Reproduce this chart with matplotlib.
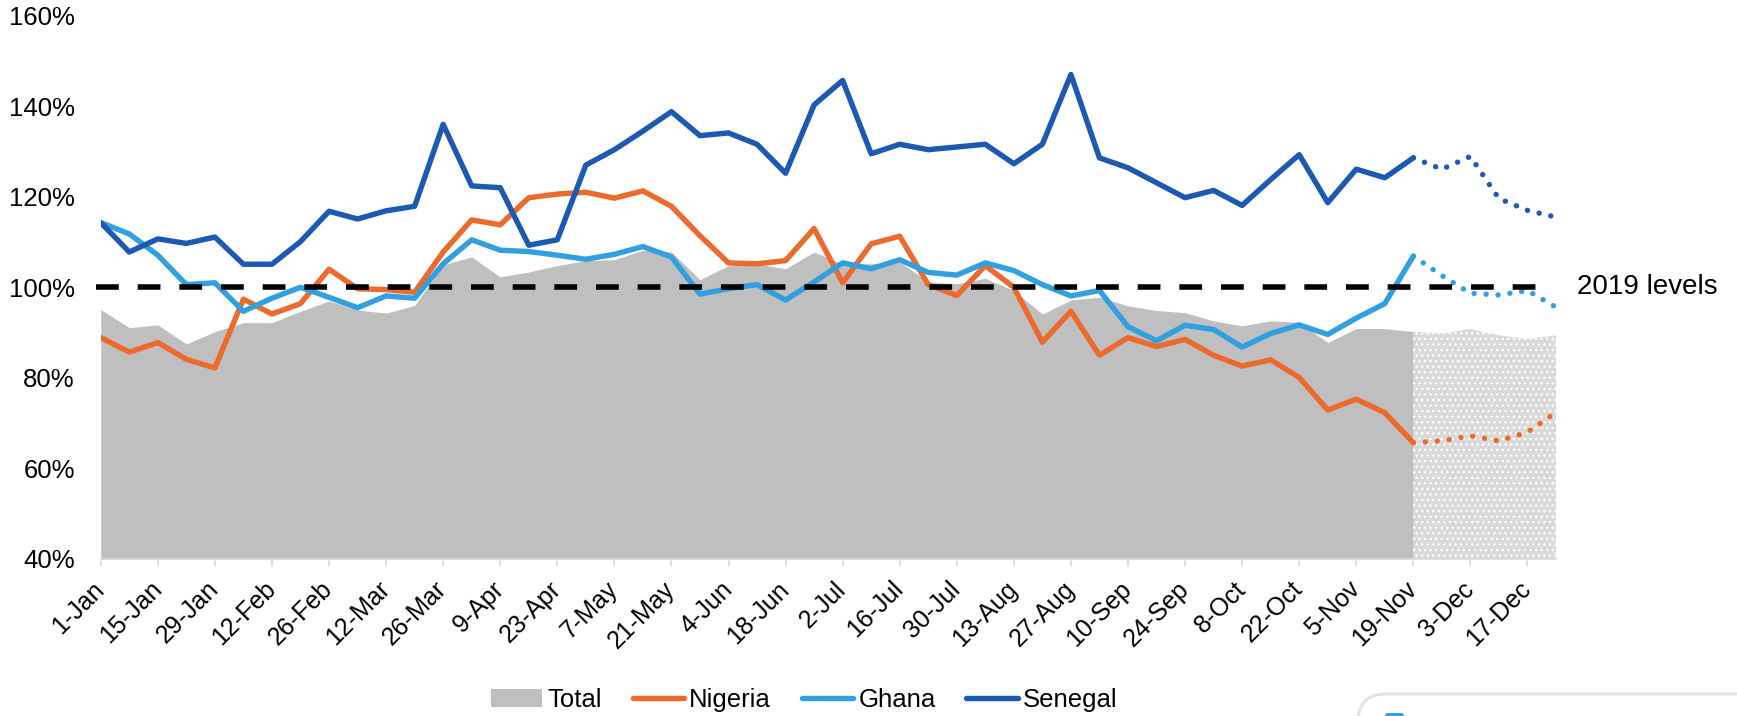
import matplotlib.pyplot as plt
from matplotlib.patches import Patch, FancyBboxPatch
from matplotlib.lines import Line2D
from matplotlib.transforms import IdentityTransform

# weekly index vs 2019 (1-Jan .. 24-Dec), last 5 weeks are projections
weeks = list(range(52))
tick_labels = ['1-Jan', '15-Jan', '29-Jan', '12-Feb', '26-Feb', '12-Mar', '26-Mar',
               '9-Apr', '23-Apr', '7-May', '21-May', '4-Jun', '18-Jun', '2-Jul',
               '16-Jul', '30-Jul', '13-Aug', '27-Aug', '10-Sep', '24-Sep', '8-Oct',
               '22-Oct', '5-Nov', '19-Nov', '3-Dec', '17-Dec']

total = [95.1, 91.1, 91.7, 87.5, 90.2, 92.2, 92.2, 94.7, 97.0, 95.0,
         94.3, 96.0, 105.0, 106.7, 102.3, 103.4, 104.8, 105.9, 106.1, 108.2,
         107.8, 101.7, 104.8, 105.2, 104.1, 107.8, 105.2, 105.2, 105.6, 101.2,
         100.8, 102.0, 99.3, 94.1, 97.2, 97.8, 95.9, 94.9, 94.4, 92.6,
         91.5, 92.6, 92.3, 87.8, 90.9, 90.9, 90.2, 89.8, 90.8, 89.4,
         88.6, 89.4]
nigeria = [88.9, 85.7, 87.8, 84.1, 82.2, 97.4, 94.1, 96.4, 104.0, 99.7,
           99.5, 98.9, 107.8, 114.9, 113.8, 119.8, 120.6, 121.0, 119.7, 121.3,
           117.9, 111.4, 105.4, 105.2, 105.9, 113.0, 101.0, 109.6, 111.3, 100.6,
           98.2, 104.8, 100.0, 87.9, 94.7, 85.0, 88.9, 86.9, 88.5, 85.0,
           82.6, 84.0, 80.1, 72.9, 75.3, 72.3, 65.7, 66.1, 67.2, 66.1,
           68.0, 72.4]
ghana = [114.3, 111.8, 107.1, 100.6, 101.0, 94.7, 97.6, 100.0, 97.8, 95.5,
         98.1, 97.6, 105.2, 110.5, 108.2, 107.9, 107.1, 106.2, 107.3, 109.0,
         106.7, 98.5, 99.7, 100.6, 97.2, 101.2, 105.4, 104.1, 106.1, 103.3,
         102.7, 105.4, 103.7, 100.6, 98.1, 99.3, 91.3, 88.2, 91.6, 90.7,
         86.8, 89.8, 91.7, 89.6, 93.2, 96.4, 106.9, 102.6, 98.7, 98.3,
         99.3, 95.6]
senegal = [114.3, 107.8, 110.7, 109.7, 111.1, 105.1, 105.1, 110.1, 116.8, 115.1,
           116.9, 117.9, 136.0, 122.4, 122.0, 109.3, 110.5, 127.0, 130.4, 134.5,
           138.8, 133.5, 134.1, 131.6, 125.2, 140.3, 145.7, 129.5, 131.6, 130.4,
           131.0, 131.6, 127.3, 131.6, 147.0, 128.6, 126.4, 123.1, 119.8, 121.4,
           118.1, 123.8, 129.3, 118.7, 126.1, 124.2, 128.6, 126.1, 128.9, 119.6,
           117.0, 115.5]
cut = 46  # 19-Nov, last actual week

grey = '#bfbfbf'
orange = '#eb6a2c'
lightblue = '#30a0e0'
darkblue = '#1b59b2'

plt.rcParams['font.family'] = ['Liberation Sans', 'DejaVu Sans']
plt.rcParams['hatch.color'] = 'white'
plt.rcParams['hatch.linewidth'] = 1.0

fig = plt.figure(figsize=(17.37, 7.16), dpi=100)
ax = fig.add_axes([0.058, 0.2193, 0.8378, 0.7588])

ax.fill_between(weeks[:cut + 1], 40, total[:cut + 1], color=grey, lw=0)
ax.fill_between(weeks[cut:], 40, total[cut:], facecolor='#d9d9d9',
                edgecolor='white', hatch='...', lw=0)

for data, c in [(nigeria, orange), (ghana, lightblue), (senegal, darkblue)]:
    ax.plot(weeks[:cut + 1], data[:cut + 1], color=c, lw=3.9,
            solid_capstyle='round', solid_joinstyle='round')
    ax.plot(weeks[cut:], data[cut:], color=c, lw=3.9,
            ls=(0, (0.01, 2.2)), dash_capstyle='round')

ax.plot([-0.18, 50.7], [100, 100], color='black', lw=4.0,
        ls=(0, (4.1, 3.4)), clip_on=False, zorder=5)
ax.text(51.72, 100, '2019 levels', fontsize=20, ha='left', va='center')

ax.set_xlim(0, 51)
ax.set_ylim(40, 160)
ax.set_yticks(range(40, 161, 20))
ax.set_yticklabels([f'{v}%' for v in range(40, 161, 20)])
ax.set_xticks(range(0, 51, 2))
ax.set_xticklabels(tick_labels, rotation=45, ha='right', va='center',
                   rotation_mode='anchor')
ax.tick_params(axis='y', length=0, pad=18.6, labelsize=18.5)
ax.tick_params(axis='x', length=5, width=1.2, color='#d9d9d9', pad=14,
               labelsize=18)
for s in ['left', 'top', 'right']:
    ax.spines[s].set_visible(False)
ax.spines['bottom'].set_color('#d9d9d9')
ax.spines['bottom'].set_linewidth(1.2)

handles = [Patch(facecolor=grey),
           Line2D([], [], color=orange, lw=3.9, solid_capstyle='round'),
           Line2D([], [], color=lightblue, lw=3.9, solid_capstyle='round'),
           Line2D([], [], color=darkblue, lw=3.9, solid_capstyle='round')]
fig.legend(handles, ['Total', 'Nigeria', 'Ghana', 'Senegal'], loc='center',
           bbox_to_anchor=(0.463, 0.0223), ncol=4, frameon=False, fontsize=18.5,
           handlelength=2.0, handleheight=0.65, handletextpad=0.2,
           columnspacing=1.2)

# cut-off panel in the bottom right corner
box = FancyBboxPatch((1358, -60), 500, 82, boxstyle='round,pad=0,rounding_size=28',
                     transform=IdentityTransform(), facecolor='white',
                     edgecolor='#e3e3e3', lw=2.2)
fig.add_artist(box)
mark = FancyBboxPatch((1385, -10), 19, 13, boxstyle='round,pad=0,rounding_size=3',
                      transform=IdentityTransform(), facecolor=lightblue, lw=0)
fig.add_artist(mark)

fig.savefig('out.png', dpi=100)
